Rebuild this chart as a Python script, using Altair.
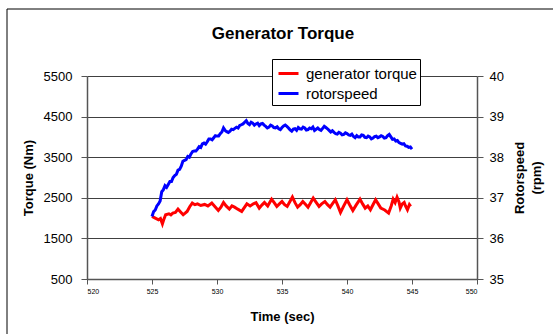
import altair as alt
import pandas as pd

# ---- data ----
speed_time = [525.000, 525.125, 525.250, 525.375, 525.500, 525.625, 525.750, 525.875,
              526.000, 526.125, 526.250, 526.375, 526.500, 526.625, 526.750, 526.875,
              527.000, 527.125, 527.250, 527.375, 527.500, 527.625, 527.750, 527.875,
              528.000, 528.125, 528.250, 528.375, 528.500, 528.625, 528.750, 528.875,
              529.000, 529.125, 529.250, 529.375, 529.500, 529.625, 529.750, 529.875,
              530.000, 530.125, 530.250, 530.375, 530.500, 530.625, 530.750, 530.875,
              531.000, 531.125, 531.250, 531.375, 531.500, 531.625, 531.750, 531.875,
              532.000, 532.125, 532.250, 532.375, 532.500, 532.625, 532.750, 532.875,
              533.000, 533.125, 533.250, 533.375, 533.500, 533.625, 533.750, 533.875,
              534.000, 534.125, 534.250, 534.375, 534.500, 534.625, 534.750, 534.875,
              535.000, 535.125, 535.250, 535.375, 535.500, 535.625, 535.750, 535.875,
              536.000, 536.125, 536.250, 536.375, 536.500, 536.625, 536.750, 536.875,
              537.000, 537.125, 537.250, 537.375, 537.500, 537.625, 537.750, 537.875,
              538.000, 538.125, 538.250, 538.375, 538.500, 538.625, 538.750, 538.875,
              539.000, 539.125, 539.250, 539.375, 539.500, 539.625, 539.750, 539.875,
              540.000, 540.125, 540.250, 540.375, 540.500, 540.625, 540.750, 540.875,
              541.000, 541.125, 541.250, 541.375, 541.500, 541.625, 541.750, 541.875,
              542.000, 542.125, 542.250, 542.375, 542.500, 542.625, 542.750, 542.875,
              543.000, 543.125, 543.250, 543.375, 543.500, 543.625, 543.750, 543.875,
              544.000, 544.125, 544.250, 544.375, 544.500, 544.625, 544.750, 544.875,
              545.000]
speed_rpm = [36.54, 36.66, 36.70, 36.80, 36.85, 36.92, 37.15, 37.20,
             37.30, 37.26, 37.33, 37.40, 37.40, 37.50, 37.55, 37.58,
             37.68, 37.70, 37.78, 37.90, 37.92, 37.94, 38.02, 38.00,
             38.08, 38.14, 38.15, 38.15, 38.20, 38.26, 38.24, 38.33,
             38.35, 38.32, 38.38, 38.45, 38.45, 38.43, 38.48, 38.53,
             38.52, 38.52, 38.58, 38.62, 38.72, 38.66, 38.63, 38.61,
             38.64, 38.69, 38.68, 38.71, 38.74, 38.72, 38.78, 38.80,
             38.82, 38.86, 38.90, 38.83, 38.80, 38.86, 38.84, 38.79,
             38.82, 38.84, 38.78, 38.82, 38.83, 38.79, 38.76, 38.72,
             38.74, 38.79, 38.77, 38.73, 38.72, 38.75, 38.70, 38.68,
             38.73, 38.77, 38.79, 38.76, 38.72, 38.67, 38.64, 38.69,
             38.70, 38.66, 38.73, 38.70, 38.69, 38.74, 38.72, 38.67,
             38.68, 38.72, 38.70, 38.74, 38.66, 38.69, 38.72, 38.68,
             38.66, 38.71, 38.76, 38.73, 38.70, 38.66, 38.62, 38.65,
             38.61, 38.58, 38.57, 38.61, 38.59, 38.55, 38.56, 38.60,
             38.58, 38.55, 38.54, 38.57, 38.51, 38.48, 38.53, 38.50,
             38.50, 38.55, 38.54, 38.49, 38.48, 38.52, 38.50, 38.45,
             38.47, 38.51, 38.52, 38.48, 38.50, 38.53, 38.51, 38.47,
             38.48, 38.53, 38.56, 38.50, 38.44, 38.45, 38.40, 38.41,
             38.36, 38.34, 38.32, 38.33, 38.28, 38.27, 38.24, 38.25,
             38.20]

torque_time = [525.0, 525.25, 525.5, 525.65, 525.8, 525.9, 526.05, 526.3, 526.45, 526.6,
               526.8, 527.0, 527.2, 527.4, 527.55, 527.7, 527.9, 528.1, 528.3, 528.5,
               528.75, 529.05, 529.3, 529.6, 529.85, 530.1, 530.3, 530.5, 530.7, 530.95,
               531.15, 531.35, 531.6, 531.9, 532.1, 532.3, 532.55, 532.8, 533.0, 533.25,
               533.45, 533.65, 533.9, 534.2, 534.4, 534.6, 534.8, 535.0, 535.2, 535.4,
               535.6, 535.8, 536.0, 536.2, 536.4, 536.6, 536.8, 537.0, 537.2, 537.4,
               537.6, 537.85, 538.05, 538.3, 538.5, 538.7, 538.9, 539.1, 539.3, 539.5,
               539.75, 540.0, 540.2, 540.45, 540.7, 541.0, 541.2, 541.4, 541.6, 541.8,
               542.0, 542.2, 542.4, 542.6, 542.9, 543.2, 543.4, 543.55, 543.7, 543.85,
               544.0, 544.1, 544.25, 544.4, 544.5, 544.65, 544.8, 544.9]
torque_nm = [2041, 2000, 1959, 1990, 1860, 1960, 2082, 2106, 2080, 2123,
             2140, 2221, 2150, 2082, 2120, 2164, 2280, 2369, 2330, 2352,
             2310, 2336, 2300, 2369, 2280, 2188, 2270, 2385, 2300, 2221,
             2300, 2270, 2220, 2164, 2260, 2352, 2300, 2352, 2380, 2246,
             2320, 2385, 2300, 2467, 2380, 2287, 2350, 2410, 2330, 2287,
             2400, 2516, 2380, 2270, 2330, 2410, 2340, 2270, 2380, 2492,
             2400, 2287, 2350, 2410, 2330, 2270, 2360, 2451, 2300, 2139,
             2300, 2451, 2330, 2188, 2320, 2467, 2350, 2246, 2300, 2205,
             2330, 2451, 2350, 2246, 2200, 2123, 2300, 2467, 2380, 2516,
             2400, 2246, 2350, 2385, 2300, 2205, 2330, 2287]

torque_ticks = [500, 1500, 2500, 3500, 4500, 5500]
speed_ticks = [35, 36, 37, 38, 39, 40]
time_ticks = [520, 525, 530, 535, 540, 545, 550]

series_names = ["generator torque", "rotorspeed"]
series_colors = ["#FF0000", "#0000FF"]
chart_title = "Generator Torque"

torque_df = pd.DataFrame({"t": torque_time, "v": torque_nm, "series": series_names[0]})
speed_df = pd.DataFrame({"t": speed_time, "v": speed_rpm, "series": series_names[1]})

FONT = "Liberation Sans"

x_enc = alt.X("t:Q", scale=alt.Scale(domain=[520, 550], nice=False, zero=False),
              axis=alt.Axis(values=time_ticks, title="Time (sec)", grid=False,
                            labelFontSize=7, labelPadding=3, tickSize=5,
                            titleFontSize=13, titleFontWeight="bold",
                            titleX=195, titleY=37, titleBaseline="middle"))

color_enc = alt.Color("series:N",
                      scale=alt.Scale(domain=series_names, range=series_colors),
                      legend=alt.Legend(title=None, orient="none", legendX=185, legendY=-17,
                                        strokeColor="black", fillColor="white", padding=3,
                                        labelFontSize=15, labelFont=FONT,
                                        symbolType="stroke", symbolStrokeWidth=3,
                                        symbolSize=400, symbolOffset=2, rowPadding=0,
                                        labelOffset=6))

torque = alt.Chart(torque_df).mark_line(strokeWidth=3).encode(
    x=x_enc,
    y=alt.Y("v:Q", scale=alt.Scale(domain=[500, 5500], nice=False, zero=False),
            axis=alt.Axis(values=torque_ticks, format="d", title="Torque (Nm)", grid=True,
                          gridColor="#404040", gridOpacity=1, labelFontSize=13,
                          tickSize=6, labelPadding=9,
                          titleFontSize=13, titleFontWeight="bold",
                          titleX=-59, titleY=101.5, titleAngle=270,
                          titleAlign="center", titleBaseline="middle")),
    color=color_enc,
)

speed = alt.Chart(speed_df).mark_line(strokeWidth=3).encode(
    x=x_enc,
    y=alt.Y("v:Q", scale=alt.Scale(domain=[35, 40], nice=False, zero=False),
            axis=alt.Axis(values=speed_ticks, format="d", orient="right",
                          title=["Rotorspeed", "(rpm)"],
                          grid=False, labelFontSize=13, tickSize=6, labelPadding=6,
                          titleFontSize=13, titleFontWeight="bold", titleLineHeight=17,
                          titleX=42, titleY=101.5, titleAngle=270,
                          titleAlign="center", titleBaseline="middle")),
    color=color_enc,
)

frame_df = pd.DataFrame({"label": [chart_title]})
frame_left = alt.Chart(frame_df).mark_rule(color="black", strokeWidth=1).encode(
    x=alt.value(-80), y=alt.value(-67), y2=alt.value(260))
frame_top = alt.Chart(frame_df).mark_rule(color="black", strokeWidth=1).encode(
    x=alt.value(-80), x2=alt.value(470), y=alt.value(-67))
title_txt = alt.Chart(frame_df).mark_text(
    fontSize=17, fontWeight="bold", font=FONT, align="center", baseline="alphabetic",
    color="black").encode(x=alt.value(196), y=alt.value(-37), text="label:N")

chart = alt.layer(torque, speed, frame_left, frame_top, title_txt).resolve_scale(
    y="independent"
).properties(
    width=390, height=203,
    autosize=alt.AutoSizeParams(type="none"),
    padding={"left": 87, "top": 76, "right": 76, "bottom": 55},
).configure(font=FONT, background="white").configure_view(stroke=None).configure_axis(
    labelFont=FONT, titleFont=FONT, labelColor="black", titleColor="black",
    domainColor="#555555", tickColor="#555555", domainWidth=1.5
)

chart.save("out.html", embed_options={"renderer": "svg", "actions": False})
